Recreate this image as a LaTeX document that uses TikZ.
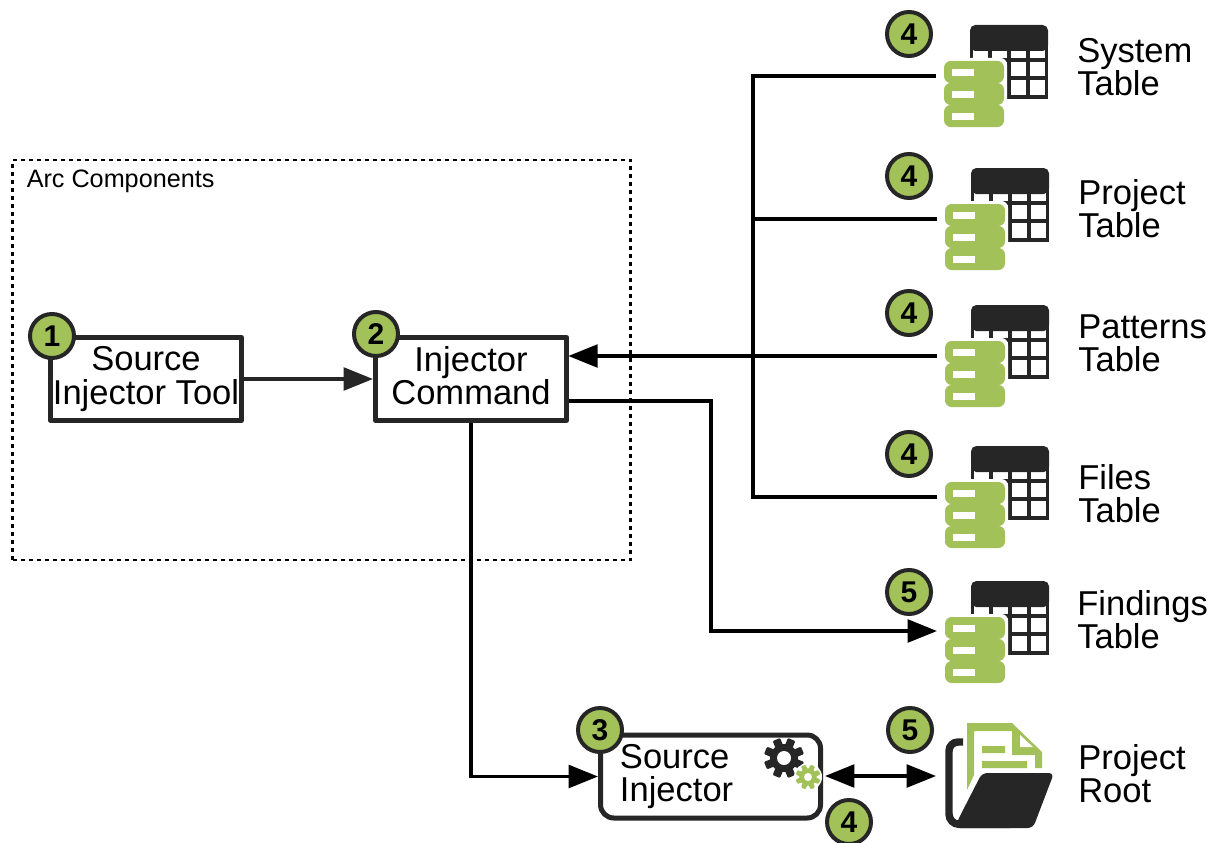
\documentclass[tikz,border=0pt]{standalone}
\usepackage{fontspec}
\setmainfont{Liberation Sans}
\usetikzlibrary{arrows.meta,positioning}
\definecolor{leaf}{HTML}{A2C159}
\definecolor{ink}{HTML}{262626}
\tikzstyle{block} = [rectangle, draw=ink, fill=white, line width=3.75pt, line join=round,
    minimum width=143.25pt, minimum height=62.25pt, inner sep=0pt, align=center,
    font=\fontsize{25.9}{24.9}\selectfont]
\tikzstyle{badge} = [circle, draw=ink, fill=leaf, line width=3pt, minimum size=33pt,
    inner sep=0pt, font=\fontsize{22.5}{22.5}\selectfont\bfseries]
\tikzstyle{label} = [anchor=west, inner sep=0pt, align=left,
    font=\fontsize{25.9}{24.9}\selectfont]
\tikzstyle{wire} = [line width=2.6pt, line cap=butt]
\tikzstyle{head} = [>={Triangle[length=22pt,width=17pt]}]
\tikzset{
  pics/gear/.style args={#1/#2}{code={
    \fill[#1] (0,0) circle (14);
    \foreach \a in {0,45,90,135}
      \fill[#1,rotate=\a+22.5,rounded corners=0.8pt] (-4,-20) rectangle (4,20);
    \fill[white] (0,0) circle (#2);
  }},
  pics/tabledb/.style={code={
    \fill[ink,rounded corners=4pt] (26,-36) rectangle (104,-10);
    \fill[ink] (26,-22) rectangle (104,-18);
    \draw[ink,line width=2.6pt] (27.5,-18) rectangle (102.5,36)
      (46,-18) -- (46,36) (65,-18) -- (65,36) (84,-18) -- (84,36)
      (27.5,-1) -- (102.5,-1) (27.5,17) -- (102.5,17);
    \fill[white,rounded corners=5pt] (-3,-3) rectangle (63,69);
    \foreach \y in {0,22,44} {
      \fill[leaf,rounded corners=5pt] (0,\y) rectangle (60,\y+22);
      \fill[white] (8,\y+8) rectangle (30,\y+15);
    }
    \coordinate (-port) at (-8,15);
  }}
}

\begin{document}
\begin{tikzpicture}[x=0.75pt,y=-0.75pt]
  \useasboundingbox (0,0) rectangle (1216,842);

  \node[draw,dashed,line width=1.8pt,minimum width=463.5pt,minimum height=300pt,inner sep=0pt] (arc) at (321.5,360) {};
  \node[anchor=north west,inner sep=0pt,font=\fontsize{18.9}{20}\selectfont] (arclabel) at (26.5,170) {Arc Components};

  \node[block] (tool) at (146,379) {Source\\Injector Tool};
  \node[block] (cmd) at (471,379) {Injector\\Command\vphantom{j}};
  \node[block,rounded corners=10pt,minimum width=165pt,text width=135.8pt,inner xsep=14.6pt,align=left] (inj) at (710.5,776.5) {\raisebox{-1pt}{Source}\\\raisebox{-1pt}{Injector}};

  \pic (bigcog) at (784,758) {gear={ink/7}};
  \fill[white] (808,777) circle (14);
  \pic[scale=.62] (smallcog) at (808,777) {gear={leaf/6.5}};

  \pic (sys) at (944,61) {tabledb};
  \pic (proj) at (945,204) {tabledb};
  \pic (pat) at (945,341) {tabledb};
  \pic (files) at (945,482) {tabledb};
  \pic (find) at (945,617) {tabledb};

  % folder
  \fill[leaf] (967,723) -- (1012,723) -- (1042,752) -- (1042,768) -- (1035,768) -- (1035,755)
    -- (1012,755) -- (1012,731) -- (974,731) -- (974,775) -- (967,790) -- cycle;
  \fill[white] (1020,735) -- (1020,747) -- (1033,747) -- cycle;
  \fill[leaf] (982,746) rectangle (1005,753) (982,761) rectangle (1027,768);
  \draw[ink,line width=5.6pt,line cap=butt] (963,742) -- (958,742)
    to[out=180,in=90] (949,751) -- (949,814) to[out=-90,in=180] (959,824.3) -- (1010,824.3);
  \fill[ink,rounded corners=4pt] (982,773) -- (1054,773) -- (1033,828) -- (1000,828)
    -- (955,828) -- (958,820) -- (962,812) -- cycle;
  \coordinate (rootport) at (936,776);
  \coordinate (rootside) at (825,776);

  \node[label] (syslabel) at (1077,67.5) {System\\Table};
  \node[label] (projlabel) at (1078,209) {Project\\Table};
  \node[label] (patlabel) at (1078,343.5) {Patterns\\Table};
  \node[label] (fileslabel) at (1078,494) {Files\\Table};
  \node[label] (findlabel) at (1077,620) {Findings\\Table};
  \node[label] (rootlabel) at (1078,774) {Project\\Root};

  \coordinate (bus) at (753,356);
  \coordinate (cmdin) at (cmd.east |- bus);
  \coordinate (cmdout) at ([yshift=-16.5pt]cmd.east);
  \coordinate (knee) at (711,631);

  \draw[wire] (sys-port) -| (bus);
  \draw[wire] (files-port) -| (bus);
  \draw[wire] (proj-port) -- (proj-port -| bus);
  \draw[wire,head,->] (pat-port) -- ([xshift=-0.5pt]cmdin);
  \draw[wire,head,->] (cmdout) -| (knee) -- (knee -| find-port);
  \draw[wire,head,->] (cmd.south) |- (inj.west);
  \draw[wire,head,->,ink] (tool) -- (cmd);
  \draw[wire,head,<->] (rootside) -- (rootport);

  \node[badge] (b1) at (52,336) {1};
  \node[badge] (b2) at (376,334) {2};
  \node[badge] (b3) at (600,730) {3};
  \node[badge] (b4a) at (909,34) {4};
  \node[badge] (b4b) at (909,176) {4};
  \node[badge] (b4c) at (909,313) {4};
  \node[badge] (b4d) at (909,454) {4};
  \node[badge] (b5a) at (909,592) {5};
  \node[badge] (b5b) at (910,730) {5};
  \node[badge] (b4e) at (849,822) {4};
\end{tikzpicture}
\end{document}
